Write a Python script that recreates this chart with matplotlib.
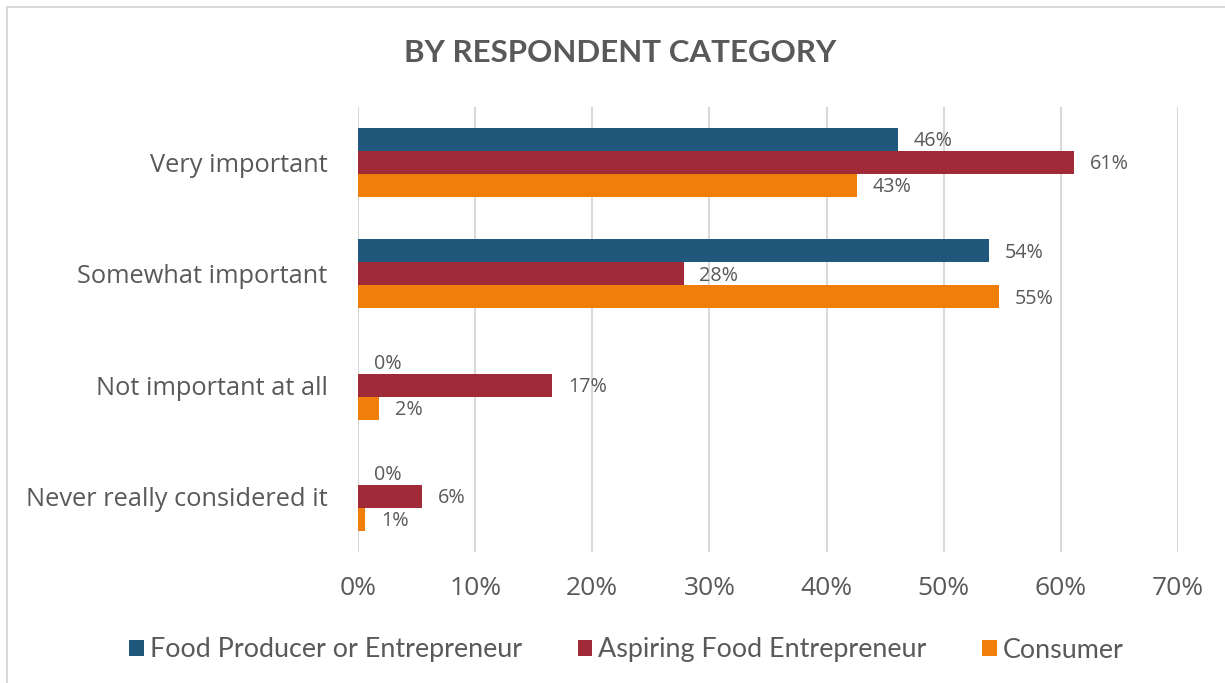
import matplotlib
matplotlib.use("Agg")
import matplotlib.pyplot as plt
from matplotlib.patches import Rectangle
import numpy as np

categories = ["Very important", "Somewhat important", "Not important at all",
              "Never really considered it"]
series_names = ["Food Producer or Entrepreneur", "Aspiring Food Entrepreneur", "Consumer"]
producer = [46.1, 53.9, 0.0, 0.0]
aspiring = [61.1, 27.8, 16.6, 5.5]
consumer = [42.6, 54.7, 1.8, 0.6]
series_values = [producer, aspiring, consumer]
colors = ["#1F587B", "#A02A37", "#EF7E0A"]
tick_values = [0, 10, 20, 30, 40, 50, 60, 70]

text_color = "#595959"
body_font = ["Open Sans", "DejaVu Sans"]
narrow_font = ["Lato", "DejaVu Sans"]

fig = plt.figure(figsize=(12.25, 6.83), dpi=100)
ax = fig.add_axes([358 / 1225, 1 - 552 / 683, 820 / 1225, 445 / 683])

# outer chart frame
fig.patches.append(Rectangle((7 / 1225, -0.1), 1.2, (1 - 7 / 683) + 0.1,
                             transform=fig.transFigure, fill=False,
                             edgecolor="#D9D9D9", linewidth=1.5))

y = np.arange(len(categories))
bar_h = 0.207
offsets = [-bar_h, 0, bar_h]
for vals, off, col, name in zip(series_values, offsets, colors, series_names):
    bars = ax.barh(y + off, vals, height=bar_h, color=col, label=name,
                   edgecolor="none", zorder=3)
    for b, v in zip(bars, vals):
        ax.text(v + 1.35, b.get_y() + b.get_height() / 2 + 0.015, f"{v:.0f}%",
                va="center", ha="left", fontsize=14.2, color=text_color,
                family=body_font, zorder=4)

ax.set_xlim(0, 70)
ax.set_ylim(len(categories) - 0.5, -0.5)
ax.set_xticks(tick_values)
ax.set_xticklabels([f"{t}%" for t in tick_values], family=body_font,
                   fontsize=19, color=text_color)
ax.set_yticks(y)
ax.set_yticklabels(categories, family=body_font, fontsize=18.3, color=text_color)
ax.tick_params(axis="both", length=0)
ax.tick_params(axis="x", pad=17)
ax.tick_params(axis="y", pad=22)
ax.grid(axis="x", color="#D9D9D9", linewidth=1.5, zorder=0)
for s in ax.spines.values():
    s.set_visible(False)

fig.text(0.5065, 1 - 53 / 683, "BY RESPONDENT CATEGORY", ha="center", va="center",
         fontsize=22.5, fontweight="bold", color=text_color, family=narrow_font)

leg = fig.legend(loc="center", bbox_to_anchor=(0.5114, 1 - 650 / 683), ncol=3,
                 frameon=False, prop={"family": narrow_font, "size": 19.4},
                 handlelength=0.55, handleheight=0.55, handletextpad=0.22,
                 columnspacing=2.05, labelcolor=text_color)

fig.savefig("out.png", dpi=100)
